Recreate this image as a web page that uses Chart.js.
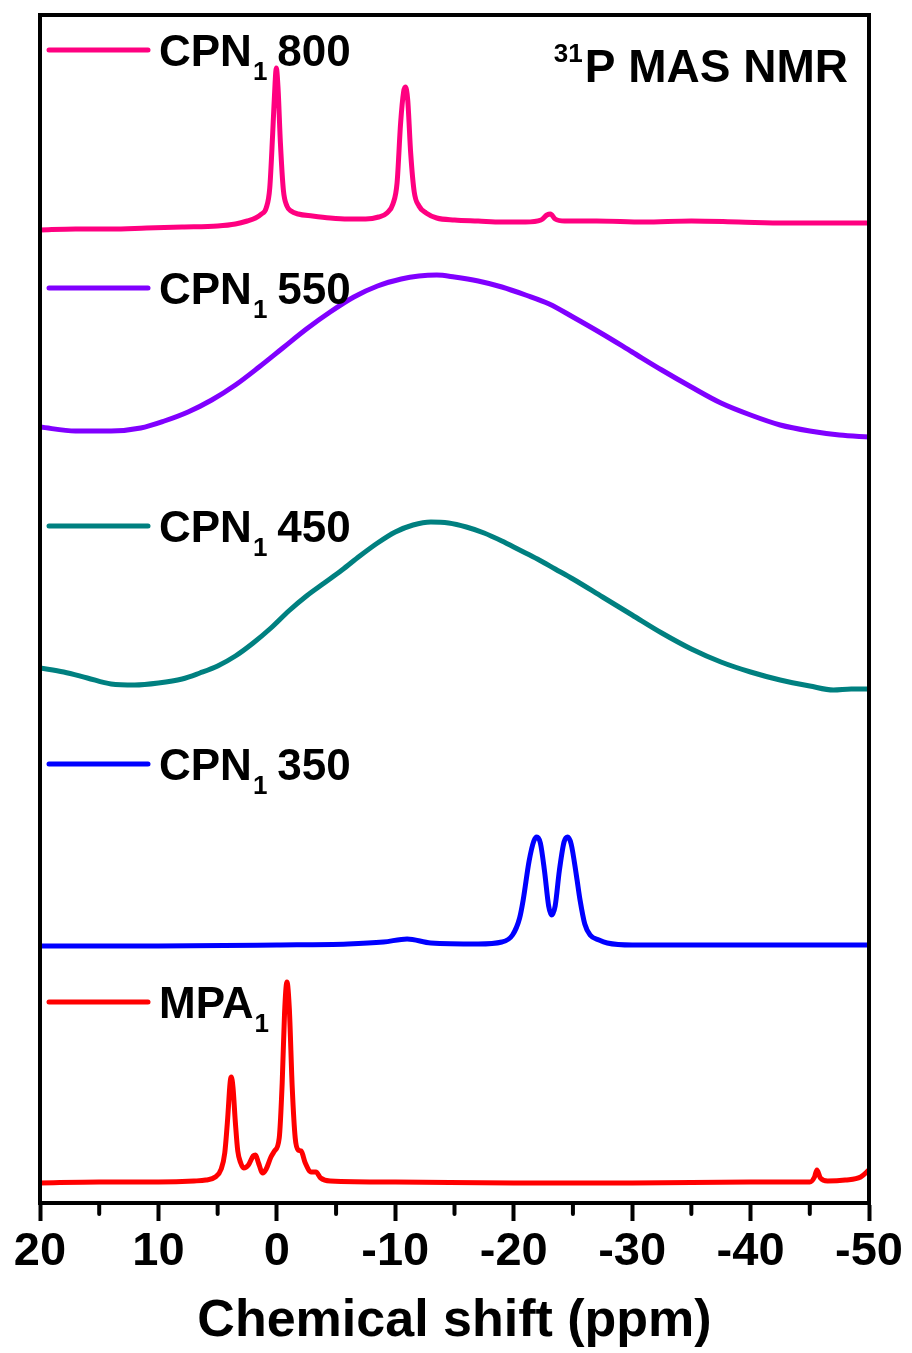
<!DOCTYPE html>
<html>
<head>
<meta charset="utf-8">
<title>31P MAS NMR</title>
<script src="https://cdn.jsdelivr.net/npm/chart.js@4.4.1/dist/chart.umd.min.js"></script>
<style>
  html, body { margin: 0; padding: 0; background: #fff; }
  #wrap { width: 912px; height: 1353px; }
</style>
</head>
<body>
<div id="wrap"><canvas id="nmrChart" width="912" height="1353"></canvas></div>
<script>
// axis ticks (ppm)
const majorTicks = [20, 10, 0, -10, -20, -30, -40, -50];
const minorTicks = [15, 5, -5, -15, -25, -35, -45];

// series (top to bottom)
const sampleNames = ["CPN", "CPN", "CPN", "CPN", "MPA"];
const sampleSubs = ["1", "1", "1", "1", "1"];
const sampleTemps = ["800", "550", "450", "350", ""];
const sampleColors = ["#FF0080", "#8000FF", "#008080", "#0000FF", "#FF0000"];
const stackOffsets = [975, 766, 513, 257, 20];

// CPN1 800
const shift800 = [20, 17, 14, 11, 8, 5, 3.5, 2.5, 1.8, 1.3, 0.9, 0.6, 0.35, 0.15, 0.05, -0.1, -0.3, -0.55, -0.85, -1.2,
  -1.8, -3, -4.5, -6, -7.5, -8.6, -9.3, -9.8, -10.15, -10.45, -10.7, -10.85, -11.05, -11.3, -11.6, -12, -12.6, -13.5, -15, -17,
  -19, -21, -22.3, -22.8, -23.1, -23.5, -24.3, -27, -31, -35, -39, -43, -47, -50];
const int800 = [-2, -1, -1, 0, 1, 2, 4, 7, 10, 14, 20, 40, 95, 145, 160, 140, 85, 38, 22, 17,
  14, 12, 10, 9, 9, 11, 15, 24, 45, 105, 136, 141, 128, 75, 36, 22, 15, 10, 8, 7,
  6, 6, 8, 13, 14, 9, 7, 7, 6, 7, 6, 5, 5, 5];

// CPN1 550
const shift550 = [20, 17, 14, 11.5, 9.5, 7.5, 5.5, 3.5, 1.5, -0.5, -2.5, -4.5, -6.5, -8.5, -10.5, -12, -13.5, -15, -17, -19,
  -21, -23, -25, -27.5, -30, -32.5, -35, -37.5, -40, -42.5, -45, -47.5, -50];
const int550 = [10, 6, 6, 9, 16, 25, 37, 52, 70, 89, 108, 125, 140, 151, 158, 161, 162, 160, 156, 150,
  142, 133, 120, 103, 85, 67, 50, 34, 22, 12, 6, 2, 0];

// CPN1 450
const shift450 = [20, 18, 16, 14, 12, 10, 8, 6.5, 5, 3.5, 2, 0.5, -1, -2.5, -4, -5.5, -7, -8.5, -10, -11.5,
  -13, -14.5, -16, -17.5, -19, -20.5, -22, -23.5, -25, -27.5, -30, -32.5, -35, -37.5, -40, -42.5, -45, -47, -48.5, -50];
const int450 = [22, 18, 12, 6, 5, 7, 11, 17, 24, 34, 47, 62, 79, 94, 107, 120, 134, 147, 158, 165,
  168, 167, 163, 157, 149, 140, 131, 121, 111, 93, 75, 57, 41, 28, 18, 10, 4, 0, 1, 1];

// CPN1 350
const shift350 = [20, 10, 0, -6, -9, -11, -13, -17, -19, -19.9, -20.5, -20.8, -21.3, -21.7, -21.95, -22.25, -22.6, -22.95, -23.2, -23.5,
  -23.85, -24.25, -24.55, -24.85, -25.3, -25.6, -26, -26.45, -27.2, -27.9, -30, -40, -50];
const int350 = [0, 0, 1, 2, 4, 7, 3, 2, 4, 11, 28, 46, 85, 105, 109, 103, 75, 40, 31, 40,
  75, 104, 109, 102, 70, 46, 22, 11, 6, 3, 1, 1, 1];

// MPA1
const shiftMPA = [20, 15, 10, 7, 6, 5.2, 4.7, 4.4, 4.15, 3.95, 3.85, 3.7, 3.5, 3.3, 3.05, 2.8, 2.4, 2.0, 1.8, 1.55,
  1.2, 0.9, 0.5, 0.2, -0.2, -0.45, -0.65, -0.85, -1.05, -1.3, -1.55, -1.8, -2.05, -2.4, -2.9, -3.3, -3.7, -4.5, -10, -20,
  -30, -40, -45, -45.4, -45.6, -45.9, -46.5, -48, -49.3, -50];
const intMPA = [0, 1, 1, 2, 3, 6, 14, 30, 65, 100, 106, 95, 60, 32, 20, 15, 18, 27, 28, 20,
  10, 14, 26, 32, 45, 100, 170, 201, 175, 95, 45, 33, 32, 20, 11, 11, 5, 2, 1, 0,
  0, 1, 1, 6, 13, 5, 2, 3, 6, 13];

const shifts = [shift800, shift550, shift450, shift350, shiftMPA];
const intensities = [int800, int550, int450, int350, intMPA];

const FONT = '"Liberation Sans", Arial, sans-serif';

const datasets = sampleNames.map((name, i) => ({
  label: name + sampleSubs[i] + " " + sampleTemps[i],
  data: shifts[i].map((s, k) => ({ x: s, y: stackOffsets[i] + intensities[i][k] })),
  borderColor: sampleColors[i],
  backgroundColor: sampleColors[i],
  borderWidth: 5,
  pointRadius: 0,
  cubicInterpolationMode: "monotone",
  fill: false
}));

function drawLabel(ctx, x0, y0, main, sub, tail) {
  ctx.textAlign = "left";
  ctx.textBaseline = "alphabetic";
  ctx.font = "bold 44px " + FONT;
  ctx.fillText(main, x0, y0);
  let xx = x0 + ctx.measureText(main).width + 1;
  ctx.font = "bold 26px " + FONT;
  ctx.fillText(sub, xx, y0 + 14);
  xx += ctx.measureText(sub).width + 10;
  if (tail) {
    ctx.font = "bold 44px " + FONT;
    ctx.fillText(tail, xx, y0);
  }
}

const decorPlugin = {
  id: "decor",
  afterDraw(chart) {
    const { ctx, chartArea: a, scales: { x } } = chart;
    ctx.save();
    ctx.strokeStyle = "#000";
    ctx.lineWidth = 4;
    ctx.strokeRect(a.left, a.top, a.right - a.left, a.bottom - a.top);

    ctx.lineCap = "round";
    minorTicks.forEach(v => {
      const px = x.getPixelForValue(v);
      ctx.beginPath();
      ctx.moveTo(px, a.bottom);
      ctx.lineTo(px, a.bottom + 11);
      ctx.stroke();
    });

    // legend rows
    chart.data.datasets.forEach((ds, i) => {
      const rowY = a.top + 35 + i * 238;
      ctx.strokeStyle = ds.borderColor;
      ctx.lineWidth = 5;
      ctx.beginPath();
      ctx.moveTo(a.left + 9, rowY);
      ctx.lineTo(a.left + 108, rowY);
      ctx.stroke();
      ctx.fillStyle = "#000";
      drawLabel(ctx, a.left + 119, rowY + 16, sampleNames[i], sampleSubs[i], sampleTemps[i]);
    });

    // title in corner
    ctx.fillStyle = "#000";
    ctx.textBaseline = "alphabetic";
    ctx.textAlign = "right";
    ctx.font = "bold 46px " + FONT;
    const mainText = "P MAS NMR";
    const right = a.right - 21;
    ctx.fillText(mainText, right, a.top + 67);
    const w = ctx.measureText(mainText).width;
    ctx.font = "bold 26px " + FONT;
    ctx.fillText("31", right - w - 2, a.top + 47);
    ctx.restore();
  }
};

new Chart(document.getElementById("nmrChart"), {
  type: "line",
  data: { datasets },
  plugins: [decorPlugin],
  options: {
    responsive: false,
    animation: false,
    layout: { padding: { left: 40, right: 43, top: 15, bottom: 0 } },
    plugins: {
      legend: { display: false },
      tooltip: { enabled: false }
    },
    scales: {
      x: {
        type: "linear",
        min: -50,
        max: 20,
        reverse: true,
        afterFit: scale => { scale.height = 150; },
        afterBuildTicks: scale => { scale.ticks = majorTicks.map(v => ({ value: v })); },
        ticks: {
          color: "#000",
          padding: 3,
          maxRotation: 0,
          autoSkip: false,
          font: { family: FONT, size: 47, weight: "bold" },
          callback: v => String(v)
        },
        grid: {
          drawOnChartArea: false,
          drawTicks: true,
          tickLength: 18,
          tickWidth: 4,
          tickColor: "#000"
        },
        border: { display: true, width: 4, color: "#000" },
        title: {
          display: true,
          text: "Chemical shift (ppm)",
          color: "#000",
          padding: 0,
          font: { family: FONT, size: 52, weight: "bold" }
        }
      },
      y: {
        display: false,
        min: 0,
        max: 1188
      }
    }
  }
});
</script>
</body>
</html>
